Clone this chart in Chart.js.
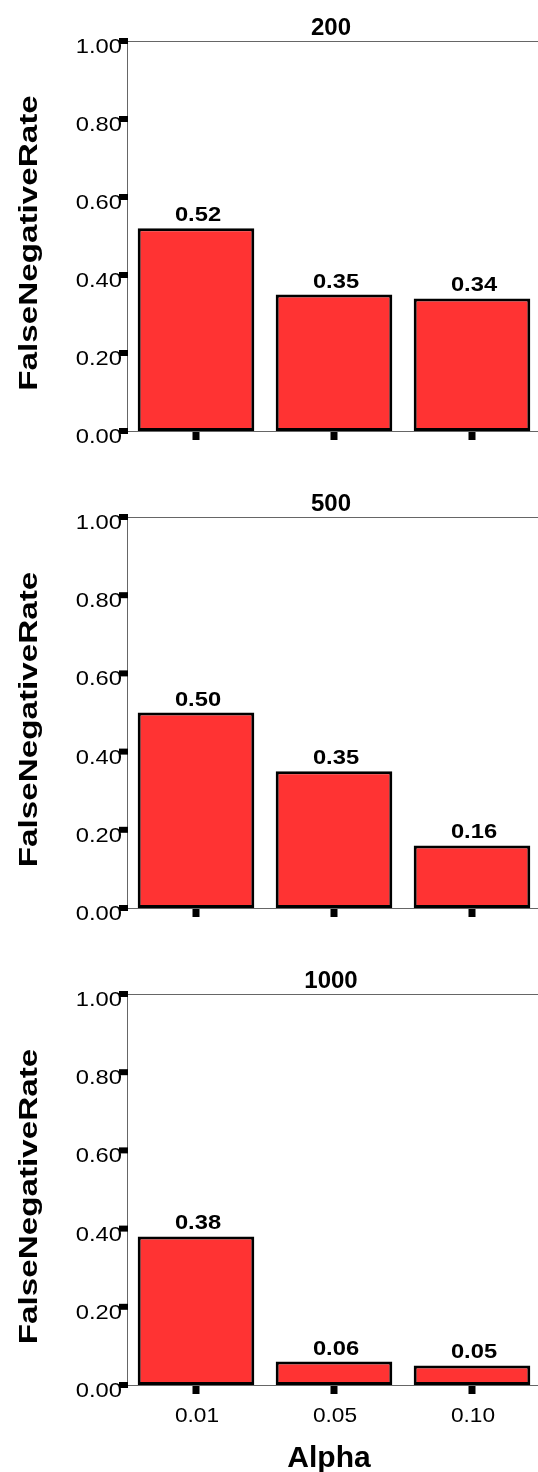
<!DOCTYPE html>
<html>
<head>
<meta charset="utf-8">
<script src="https://cdn.jsdelivr.net/npm/chart.js@4"></script>
<style>
html,body{margin:0;padding:0;background:#fff;}
#wrap{position:relative;width:538px;height:1472px;overflow:hidden;}
canvas{position:absolute;left:0;}
</style>
</head>
<body>
<div id="wrap">
<canvas id="c1"></canvas>
<canvas id="c2"></canvas>
<canvas id="c3"></canvas>
</div>
<script>
// ---- data ----
const categories = ['0.01', '0.05', '0.10'];
const panelTitles = ['200', '500', '1000'];
const fnr200 = [0.52, 0.35, 0.34];
const fnr500 = [0.50, 0.35, 0.16];
const fnr1000 = [0.38, 0.06, 0.05];
const yTickValues = [0, 0.2, 0.4, 0.6, 0.8, 1.0];
const yTickLabels = ['0.00', '0.20', '0.40', '0.60', '0.80', '1.00'];
const yAxisTitle = 'FalseNegativeRate';
const xAxisTitle = 'Alpha';

const FONT = "'Liberation Sans', Arial, sans-serif";
const CW = 541;

function txt(ctx, s, x, y, font, align, sx) {
  ctx.save();
  ctx.translate(x, y);
  ctx.scale(sx, 1);
  ctx.font = font;
  ctx.textAlign = align;
  ctx.textBaseline = 'alphabetic';
  ctx.fillStyle = '#000';
  ctx.fillText(s, 0, 0);
  ctx.restore();
}

const decor = {
  id: 'decor',
  beforeDatasetsDraw(chart) {
    const ctx = chart.ctx, a = chart.chartArea;
    ctx.save();
    ctx.strokeStyle = '#666';
    ctx.lineWidth = 1;
    ctx.beginPath();
    ctx.moveTo(a.left + 0.5, a.top + 0.5);
    ctx.lineTo(a.right, a.top + 0.5);
    ctx.moveTo(a.left + 0.5, a.top);
    ctx.lineTo(a.left + 0.5, a.bottom);
    ctx.moveTo(a.left, a.bottom + 0.5);
    ctx.lineTo(a.right, a.bottom + 0.5);
    ctx.stroke();
    ctx.restore();
  },
  afterDraw(chart) {
    const ctx = chart.ctx, a = chart.chartArea;
    const o = chart.options.plugins.decor;
    const ys = chart.scales.y, xs = chart.scales.x;
    const midX = 332;
    yTickValues.forEach((v, i) => {
      const py = ys.getPixelForValue(v);
      txt(ctx, yTickLabels[i], a.left - 5, py + 12, '21px ' + FONT, 'right', 1.13);
      ctx.fillStyle = '#000';
      ctx.fillRect(a.left - 8, py - 3, 9, 6);
    });
    categories.forEach((c, i) => {
      const px = xs.getPixelForValue(i);
      ctx.fillStyle = '#000';
      ctx.fillRect(px - 3.5, a.bottom + 1, 7, 8);
      if (o.showX) {
        txt(ctx, c, px + 1, a.bottom + 37, '21px ' + FONT, 'center', 1.08);
      }
    });
    const meta = chart.getDatasetMeta(0);
    const data = chart.data.datasets[0].data;
    meta.data.forEach((bar, i) => {
      txt(ctx, data[i].toFixed(2), bar.x + 2, bar.y - 7, 'bold 21px ' + FONT, 'center', 1.13);
    });
    txt(ctx, o.title, midX - 1, a.top - 6, 'bold 24px ' + FONT, 'center', 1.0);
    ctx.save();
    ctx.translate(37, (a.top + a.bottom) / 2 + 7);
    ctx.rotate(-Math.PI / 2);
    ctx.scale(1.33, 1);
    ctx.font = 'bold 25px ' + FONT;
    ctx.textAlign = 'center';
    ctx.textBaseline = 'alphabetic';
    ctx.fillStyle = '#000';
    ctx.fillText(yAxisTitle, 0, 0);
    ctx.restore();
    if (o.showX) {
      txt(ctx, xAxisTitle, midX - 3, a.bottom + 82, 'bold 30px ' + FONT, 'center', 1.0);
    }
  }
};

function makePanel(id, top, height, values, title, showX, plotH) {
  const cv = document.getElementById(id);
  cv.style.top = top + 'px';
  cv.width = CW; cv.height = height;
  cv.style.width = CW + 'px'; cv.style.height = height + 'px';
  new Chart(cv, {
    type: 'bar',
    data: {
      labels: categories,
      datasets: [{
        data: values,
        backgroundColor: '#FF3333',
        borderColor: '#000',
        borderWidth: 3,
        borderSkipped: false,
        barPercentage: 0.845,
        categoryPercentage: 1.0
      }]
    },
    options: {
      responsive: false,
      animation: false,
      devicePixelRatio: 1,
      layout: { padding: { left: 127, right: 0, top: 41, bottom: height - 41 - plotH } },
      scales: {
        x: { display: false, offset: true },
        y: { display: false, min: 0, max: 1 }
      },
      plugins: {
        legend: { display: false },
        tooltip: { enabled: false },
        decor: { title: title, showX: showX }
      }
    },
    plugins: [decor]
  });
}

makePanel('c1', 0, 476, fnr200, panelTitles[0], false, 390);
makePanel('c2', 476, 476, fnr500, panelTitles[1], false, 391);
makePanel('c3', 953, 519, fnr1000, panelTitles[2], true, 391);
</script>
</body>
</html>
